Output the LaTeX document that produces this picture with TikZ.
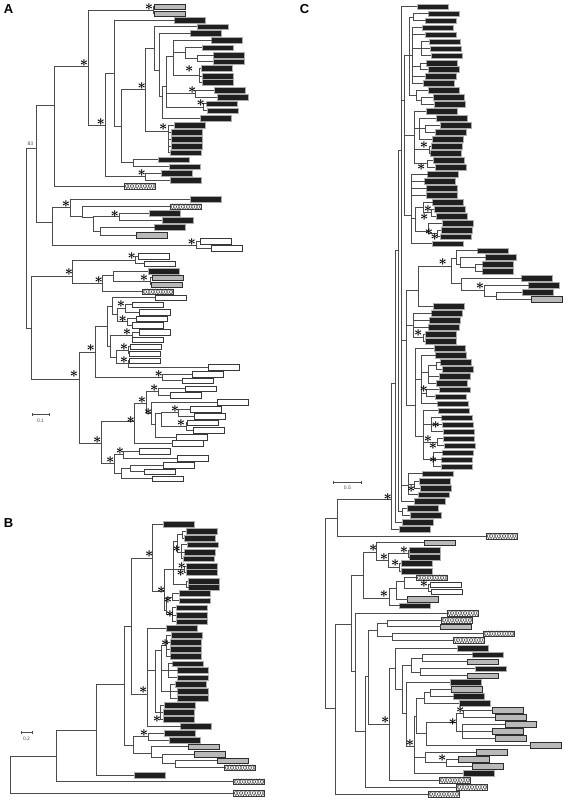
\documentclass[tikz,border=0pt]{standalone}
\usepackage{amsmath}
\usepackage{fontspec}
\setsansfont{Liberation Sans}
\usepackage{tikz}
\usetikzlibrary{arrows.meta}

\tikzset{
  br/.style={draw=black!70, line width=0.9pt, line cap=rect},
  leaf/.style={anchor=west, minimum width=31pt, minimum height=5.8pt, inner sep=0pt, line width=0.5pt},
  lk/.style={fill=black!88, draw=gray!65},
  lg/.style={fill=gray!55, draw=gray!35!black},
  lw/.style={fill=white, draw=gray!45!black},
  lx/.style={fill=white, draw=gray!45!black,
    path picture={
      \draw[gray!40!black, line width=0.35pt] (path picture bounding box.south west)
        \foreach \k in {1,...,6}{ -- ++(2.58pt,5.8pt) -- ++(2.58pt,-5.8pt)};
      \draw[gray!40!black, line width=0.35pt] (path picture bounding box.north west)
        \foreach \k in {1,...,6}{ -- ++(2.58pt,-5.8pt) -- ++(2.58pt,5.8pt)};
    }},
  ast/.style={inner sep=0pt, font=\fontsize{14}{14}\selectfont},
  pan/.style={inner sep=0pt, font=\sffamily\bfseries\fontsize{13}{13}\selectfont},
  tiny/.style={inner sep=0pt, text=black!70, font=\sffamily\fontsize{5}{5}\selectfont},
  sbar/.style={draw=black!70, line width=0.5pt, {Bar[width=3pt]}-{Bar[width=3pt]}},
}

\begin{document}
\begin{tikzpicture}[x=1pt, y=-1pt]
  \useasboundingbox (0,0) rectangle (565,800);

  % Pannello A
  \node[pan] (tA) at (8.5,9) {A};
  \coordinate (Ar) at (26.3,238);
  \draw[br] (26.3,148.3) -- (26.3,328.3);
  \node[tiny] (bs83) at (30.5,144) {83};
  \foreach \n/\p/\x/\y/\ya/\yb in {
    a1/r/36/148.3/105/222.7, aa/a1/54.3/105/66.7/186, ab/aa/88.7/66.7/10/125,
    ac/ab/153/10/6.7/13.7, ad/ab/105/125/73.3/176.7, ae/ad/114.7/73.3/20/126.7,
    af/ae/121.3/126.7/89.3/162.7, ag/af/145.3/89.3/48.3/131.7, ah/ag/154/48.3/26.7/70,
    ai/ah/159/70/33.3/96, aj/ai/162.7/96/86/117.7, ak/aj/166.7/86/56/107,
    am/ak/173.3/56/40.3/75, as/am/185/52/47.7/58.5, au/as/197.3/58.5/55.3/61.7,
    at/am/199/75/68.3/82.3, aq/ak/195/93.5/90/97, ap/ak/203/107.2/103.7/110.7,
    al/ag/168/131.7/125/152.7, an/af/133/162.7/159.7/166.7, ao/ad/145.3/176.7/173.3/180.3,
    av/a1/52.3/222.7/207.3/245, aw/av/70/207.3/199.3/216, ax/aw/82/216/206.7/217,
    ay/ax/93.3/217/216.8/231, az/ay/119/216.8/213.3/220.3, aw2/ay/100/231/227.3/235,
    ba/av/196.7/245/241.3/248.3,
    bb/r/31.3/328.3/276.7/379.3, bc/bb/72.3/276.7/260/283.3, bd/bc/135/260/256.3/263.7,
    be/bc/102/283.3/275.7/291.7, bf/be/113.3/275.7/271/281.2, bg/bf/150/281.2/277.7/284.7,
    bh/bb/79/379.3/352/443.7, bi/bh/95.7/352/326/377.7, bj/bi/107.3/326/306/346.7,
    bk/bj/112.3/306/297.7/314, bl/bk/117.3/314/308.3/321.8, bm/bl/125/308.3/304.7/312,
    bn/bl/127/321.8/318.7/325, bo/bj/110/346.7/335.8/357, bp/bo/132/335.8/332/339.7,
    bq/bo/116.7/357/350.2/363.8, br/bq/128/350.2/346.7/353.7, bs/bq/128/363.8/360.7/367,
    bt/bi/162.7/377.7/374/380.7, bu/bh/101.3/443.7/421.7/463.3, bv/bu/134.7/421.7/403.3/443.3,
    bw/bv/146/403.3/391.7/413.3, bx/bw/158.3/391.7/388.7/395.3, by/bw/151.7/413.3/402/424,
    bz/by/155.3/424/413/437, ca/bz/161.3/413/412.7/426.5, cb/ca/178.7/412.7/409.3/416,
    cc/ca/186/426.5/422.7/430.3, cd/bu/114.3/463.3/454/473.3, ce/cd/123.7/454/451.3/458,
    cf/cd/121.7/473.3/468.7/478.7, cg/cf/130.7/468.7/465.3/471.7}{
    \coordinate (A\n) at (\x,\y);
    \draw[br] (A\p |- A\n) -- (A\n);
    \draw[br] (\x,\ya) -- (\x,\yb);
  }
  \foreach \n/\p/\y/\bx/\s in {
    1/ac/6.7/154/lg, 2/ac/13.7/154/lg, 3/ae/20/174.3/lk, 4/ah/26.7/196.7/lk,
    5/ai/33.3/190.3/lk, 6/am/40.3/211.3/lk, 7/as/47.7/202/lk, 8/au/55.3/213.3/lk,
    9/au/61.7/212.7/lk, 10/at/68.3/200.7/lk, 11/at/76/202/lk, 12/at/82.3/202/lk,
    13/aq/90/213.7/lk, 14/aq/97/217/lk, 15/ap/103.7/206.3/lk, 16/ap/110.7/207/lk,
    17/aj/118/199.7/lk, 18/al/125/173.7/lk, 19/al/132/170.7/lk, 20/al/139/170.7/lk,
    21/al/146/171/lk, 22/al/152.7/170/lk, 23/an/159.7/157.7/lk, 24/an/166.7/169/lk,
    25/ao/173.3/160.7/lk, 26/ao/180.3/170/lk, 27/aa/186/124/lx, 28/aw/199.3/190/lk,
    29/ax/206.7/169.7/lx, 30/az/213.3/149/lk, 31/az/220.3/161.7/lk, 32/aw2/227.3/154.3/lk,
    33/aw2/235/136/lg, 34/ba/241.3/200/lw, 35/ba/248.3/211/lw, 36/bd/256.3/138.3/lw,
    37/bd/263.7/144/lw, 38/bf/271/147.7/lk, 39/bg/277.7/151.7/lg, 40/bg/284.7/151/lg,
    41/be/291.7/142.3/lx, 42/bk/297.7/155.3/lw, 43/bm/304.7/132.3/lw, 44/bm/312/138.7/lw,
    45/bn/318.7/135.7/lw, 46/bn/325/132.3/lw, 47/bp/332/138.7/lw, 48/bp/339.7/132.3/lw,
    49/br/346.7/129.7/lw, 50/br/353.7/129.3/lw, 51/bs/360.7/129.3/lw, 52/bs/367/207.7/lw,
    53/bt/374/192/lw, 54/bt/380.7/182.3/lw, 55/bx/388.7/185/lw, 56/bx/395.3/169.7/lw,
    57/by/402/217/lw, 58/cb/409.3/190.3/lw, 59/cb/416/194/lw, 60/cc/422.7/187.3/lw,
    61/cc/430.3/193/lw, 62/bz/437/176.3/lw, 63/bv/443.3/172.3/lw, 64/ce/451.3/139/lw,
    65/ce/458/176.7/lw, 66/cg/465.3/163.3/lw, 67/cg/471.7/144/lw, 68/cf/478.7/152/lw}{
    \node[leaf,\s] (a\n) at (\bx,\y) {};
    \draw[br] (A\p |- a\n.west) -- (a\n.west);
  }
  \coordinate (sA1) at (32,414.3);
  \coordinate (sA2) at (49,414.3);
  \draw[sbar] (sA1) -- (sA2);
  \node[tiny] (lsA) at (40.5,420.5) {0.1};

  % Pannello B
  \node[pan] (tB) at (8.5,523.5) {B};
  \coordinate (Br) at (10.3,775);
  \draw[br] (10.3,756.7) -- (10.3,793);
  \foreach \n/\p/\x/\y/\ya/\yb in {
    ba1/r/56/756.7/730/781.7, bb1/ba1/96.3/730/684.3/775, bc1/bb1/124/684.3/626.7/745,
    bd1/bc1/131.7/626.7/558.3/694.3, be1/bd1/152.7/558.3/524/591.7, bf1/be1/164/591.7/569/610,
    bg1/bf1/173.3/569/541/584, bg2/bg1/177/541/534.5/552, bg5/bg2/182.7/534.5/531/538,
    bg6/bg2/181.7/552/544.7/558.7, bg3/bg1/184/569/566.3/572, bg4/bg1/186/584/581.3/587.3,
    bh1/bf1/166.7/610/597/614.7, bh2/bh1/172/597/593.3/600.7, bh3/bh1/172/614.7/607.7/621.7,
    bi1/bd1/147.3/694.3/628.3/726.3, bj1/bi1/155/670/650/712, bk1/bj1/161.7/650/645.8/691.1,
    bk2/bk1/166/645.8/635.3/656.3, bk3/bk1/168/670.7/663.7/677.7, bk4/bk1/170/691.1/684.3/698,
    bl1/bj1/160.7/712/705.3/719, bm1/bc1/133/745/736.7/753.7, bn1/bm1/148/736.7/733/740,
    bo1/bm1/151.3/753.7/746.7/757, bp1/bo1/162.3/757/754/763.5, bq1/bp1/175/763.5/760.7/767.7}{
    \coordinate (B\n) at (\x,\y);
    \draw[br] (B\p |- B\n) -- (B\n);
    \draw[br] (\x,\ya) -- (\x,\yb);
  }
  \foreach \n/\p/\y/\bx/\s in {
    1/be1/524/163/lk, 2/bg5/531/186/lk, 3/bg5/538/184/lk, 4/bg6/544.7/186.7/lk,
    5/bg6/552/184.3/lk, 6/bg6/558.7/183/lk, 7/bg3/566.3/186/lk, 8/bg3/572/186/lk,
    9/bg4/581.3/187.7/lk, 10/bg4/587.3/188.3/lk, 11/bh2/593.3/178.7/lk, 12/bh2/600.7/178.7/lk,
    13/bh3/607.7/175.7/lk, 14/bh3/615/175.7/lk, 15/bh3/621.7/175.7/lk, 16/bi1/628.3/165.7/lk,
    17/bk2/635.3/170.7/lk, 18/bk2/642.3/169.7/lk, 19/bk2/649/169.7/lk, 20/bk2/656.3/170.3/lk,
    21/bk3/663.7/172.3/lk, 22/bk3/670.3/177.3/lk, 23/bk3/677.7/176.7/lk, 24/bk4/684.3/175/lk,
    25/bk4/691.3/177.3/lk, 26/bk4/698/176.7/lk, 27/bl1/705.3/163.7/lk, 28/bl1/712/163/lk,
    29/bl1/719/163/lk, 30/bi1/726.3/180.3/lk, 31/bn1/733/163.7/lk, 32/bn1/740/169/lk,
    33/bo1/746.7/187.7/lg, 34/bp1/754/193.7/lg, 35/bq1/760.7/217/lg, 36/bq1/767.7/224/lx,
    37/bb1/775/134/lk, 38/ba1/781.7/233.3/lx, 39/r/793/233/lx}{
    \node[leaf,\s] (b\n) at (\bx,\y) {};
    \draw[br] (B\p |- b\n.west) -- (b\n.west);
  }
  \coordinate (sB1) at (20.7,732);
  \coordinate (sB2) at (32.3,732);
  \draw[sbar] (sB1) -- (sB2);
  \node[tiny] (lsB) at (26.5,738.5) {0.2};

  % Pannello C
  \node[pan] (tC) at (304.5,9.5) {C};
  \coordinate (Cr) at (325.7,613);
  \draw[br] (325.7,518) -- (325.7,708.3);
  \foreach \n/\p/\x/\y/\ya/\yb in {
    c1/r/337/518/500/536, u0/c1/391/499.3/383/529, u1/u0/395/383/250/522.3,
    u2/u1/398/250/150/511.8, u2b/u2/402/511.8/508.3/515.3, u3/u2/401.7/150/6.7/501.3,
    u4/u3/404.5/100/55/215, ca/u4/409.3/55/17.2/95, ca1/ca/413.3/17.2/13.7/20.7,
    ca2/ca/412.7/55/27.7/83.3, ca2a/ca2/421/48.7/41.7/55.7, ca2b/ca2/420/66.2/63/69.3,
    ca3/ca/416/95/90.3/100.8, ca3b/ca3/421/100.8/97.3/104.3,
    g2a/u4/414.3/135/111/163.7, g2a1/g2a/419.3/128.8/118.3/139.3, g2a1b/g2a1/425/128.8/125.3/132.3,
    g2a2/g2a/429.5/149.7/146/153.3, g2a3/g2a/427/163.7/160.3/167,
    g2b/u4/411.7/215/174.3/243.7, g2b1/g2b/415.3/218.5/207/231, g2b1a/g2b1/423/207/202/212.5,
    g2b1c/g2b1a/431/212.5/209/216, g2b1b/g2b1/428/231/223/233.3, g2b1d/g2b1b/437/233.3/230/236.7,
    u5/u3/406.5/340/290/405, g34/u5/418/290/266.7/306.3, g3/g34/451.7/266.7/258/283,
    g3a/g3/456/258/250.7/264, g3a2/g3a/460/264/257.3/267.7, g3a3/g3a2/475/267.7/264.3/271,
    g3b/g3/461.7/283/278/290.7, g3b2/g3b/484.3/290.7/285.3/296, g3b3/g3b2/496.7/296/292.3/299.3,
    g4/u5/413.3/325/313/337.5, g4a/g4/423/337.5/334/341,
    g5/u5/415.7/405/348/436, g5a/g5/421/379/355/403.7, g5a1/g5a/428/372/365.5/383,
    g5a1a/g5a1/436/365.5/362/369, g5a2/g5a/426/393.2/389.7/396.7,
    g5b/g5/423/436/410.7/459.7, g5b1/g5b/431/424.7/417.7/431.7, g5b2/g5b/437/442.2/438.7/445.7,
    g5b3/g5b/433/459.7/452.7/466.7, g6/u3/408.3/485/473.7/494.7, g6b/g6/414/484.5/481/488,
    cl/r/335.3/708.3/624/794, cl1/cl/351.3/624/575.7/671.7, cm/cl1/363/575.7/552/598.3,
    cm1/cm/376.3/552/542.7/560.7, cm2/cm1/388.3/560.7/553.7/567.3, cm3/cm2/408.3/553.7/550.3/557.3,
    cm4/cm2/399.7/567.3/563.3/571, cn/cm/389.3/598.3/588.3/605.7, cn1/cn/396.7/588.3/581/599,
    cn2/cn1/404.7/581/577.7/588, cn3/cn2/428/588/584.7/591.7,
    co/cl1/355.7/671.7/613/731.7, co1/co/365/731.7/676.7/786.7, co2/co1/368.3/676.7/630/724,
    co3/co2/377/630/623.3/636.3, co4/co3/387.3/623.3/620/626.7, co5/co3/392/636.3/633.7/640,
    co6/co2/389/724/668.7/780, co7/co6/395.3/668.7/648/689.3, co8/co7/402.3/689.3/665.2/713.4,
    co9/co8/411.7/665.2/658.2/672.2, co10/co9/422.7/658.2/654.7/661.7, co11/co9/420.3/672.2/668.7/675.7,
    cp/co8/406/713.4/682.3/746.7, cq/cp/414.3/746.7/716/773, cr/cq/416.7/716/698/733.9,
    cs/cr/424/698/692.8/703, cs1/cs/430/692.8/689.3/696.3, ct/cr/426/733.9/722.4/745.3,
    ct1/ct/456/722.4/713.8/731, ct2/ct1/463.3/713.8/710.3/717.3, ct3/ct1/462/731/724.3/738,
    cv/cq/425/757.4/752/762.8, cv1/cv/446/762.8/759.3/766.3}{
    \coordinate (C\n) at (\x,\y);
    \draw[br] (C\p |- C\n) -- (C\n);
    \draw[br] (\x,\ya) -- (\x,\yb);
  }
  \foreach \n/\p/\y/\bx/\s in {
    1/u3/6.7/417/lk, 2/ca1/13.7/428.3/lk, 3/ca1/20.7/425.3/lk, 4/ca2/27.7/422/lk,
    5/ca2/34.7/425/lk, 6/ca2a/41.7/429/lk, 7/ca2a/48.7/429.7/lk, 8/ca2a/55.7/430.7/lk,
    9/ca2b/63/426.3/lk, 10/ca2b/69.3/427.7/lk, 11/ca2/76.3/425/lk, 12/ca2/83.3/423/lk,
    13/ca3/90.3/427.7/lk, 14/ca3b/97.3/432.7/lk, 15/ca3b/104.3/433.7/lk, 16/g2a/111/425.7/lk,
    17/g2a1/118.3/435.7/lk, 18/g2a1b/125.3/439.7/lk, 19/g2a1b/132.3/435/lk, 20/g2a1/139.3/432/lk,
    21/g2a2/146/430.7/lk, 22/g2a2/153.3/430.3/lk, 23/g2a3/160.3/432.7/lk, 24/g2a3/167/434.7/lk,
    25/g2b/174.3/427.3/lk, 26/g2b/181.3/424.3/lk, 27/g2b/188/426.3/lk, 28/g2b/195/426/lk,
    29/g2b1a/202/432.3/lk, 30/g2b1c/209/433.7/lk, 31/g2b1c/216/436/lk, 32/g2b1b/223/441.7/lk,
    33/g2b1d/230/440.7/lk, 34/g2b1d/236.7/440/lk, 35/g2b/243.7/432/lk, 36/g3a/250.7/477.3/lk,
    37/g3a2/257.3/485.3/lk, 38/g3a3/264.3/482.3/lk, 39/g3a3/271/482.3/lk, 40/g3b/278/521.3/lk,
    41/g3b2/285.3/528.3/lk, 42/g3b3/292.3/522/lk, 43/g3b3/299.3/530.7/lg, 44/g34/306.3/433/lk,
    45/g4/313/431.3/lk, 46/g4/320/429.3/lk, 47/g4/327/428.3/lk, 48/g4a/334/424.7/lk,
    49/g4a/341/425/lk, 50/g5/348/434/lk, 51/g5a/355/435.3/lk, 52/g5a1a/362/440.3/lk,
    53/g5a1a/369/441.7/lk, 54/g5a1/376/438.7/lk, 55/g5a1/383/436/lk, 56/g5a2/389.7/438.7/lk,
    57/g5a2/396.7/434.7/lk, 58/g5a/403.7/437.3/lk, 59/g5b/410.7/438/lk, 60/g5b1/417.7/441.3/lk,
    61/g5b1/424.7/442/lk, 62/g5b1/431.7/442.7/lk, 63/g5b2/438.7/442.7/lk, 64/g5b2/445.7/444/lk,
    65/g5b3/452.7/442.3/lk, 66/g5b3/459.7/441.3/lk, 67/g5b3/466.7/441/lk, 68/g6/473.7/422.3/lk,
    69/g6b/481/418.7/lk, 70/g6b/488/420/lk, 71/g6/494.7/418/lk, 72/u3/501.3/414/lk,
    73/u2b/508.3/407/lk, 74/u2b/515.3/410/lk, 75/u1/522.3/401.7/lk, 76/u0/529/398.7/lk,
    77/c1/536/485.7/lx, 78/cm1/542.7/424/lg, 79/cm3/550.3/409.3/lk, 80/cm3/557.3/409.3/lk,
    81/cm4/563.3/400.7/lk, 82/cm4/571/401/lk, 83/cn2/577.7/416/lx, 84/cn3/584.7/430.3/lw,
    85/cn3/591.7/431.3/lw, 86/cn1/599/407.3/lg, 87/cn/605.7/399.3/lk, 88/co/613/446.7/lx,
    89/co4/620/441.3/lx, 90/co4/626.7/440.3/lg, 91/co5/633.7/483.3/lx, 92/co5/640/452.7/lx,
    93/co7/648/456.7/lk, 94/co10/654.7/472.3/lk, 95/co10/661.7/467.3/lg, 96/co11/668.7/474.7/lk,
    97/co11/675.7/467.3/lg, 98/cp/682.3/449.7/lk, 99/cs1/689.3/451.3/lg, 100/cs1/696.3/453.3/lk,
    101/cs/703/459/lk, 102/ct2/710.3/491.7/lg, 103/ct2/717.3/495/lg, 104/ct3/724.3/505/lg,
    105/ct3/731/491.7/lg, 106/ct3/738/495.3/lg, 107/ct/745.3/530.3/lg, 108/cv/752/476/lg,
    109/cv1/759.3/457.7/lg, 110/cv1/766.3/472/lg, 111/cq/773/463/lk, 112/co6/780/439.3/lx,
    113/co1/787/456.3/lx, 114/cl/794/428.3/lx}{
    \node[leaf,\s] (c\n) at (\bx,\y) {};
    \draw[br] (C\p |- c\n.west) -- (c\n.west);
  }
  \coordinate (sC1) at (332.7,482);
  \coordinate (sC2) at (361.7,482);
  \draw[sbar] (sC1) -- (sC2);
  \node[tiny] (lsC) at (347.3,487.5) {0.5};

  % Asterischi (supporto)
  \foreach \x/\y [count=\i] in {
    149/7, 84/63.3, 100.7/121.7, 141.7/86, 189.3/69, 192.3/90, 200.7/103.3, 163.3/127.3,
    141.7/173.3, 66/204, 114.7/213.7, 191.7/242.3, 131.7/256, 69/272.3, 98.7/280, 144/277.7,
    121/304.3, 122.7/318.7, 127/332.3, 124/346.7, 124/360, 90.7/348.3, 74/374.3, 158.7/374.3,
    154.3/387.7, 142/400, 148.3/411.7, 175/409.3, 181/423.3, 130.7/420, 97.3/440, 120/451,
    110.3/460,
    149.3/554.3, 176.7/549.3, 181.7/565.7, 180.7/572.7, 161.3/590, 168/600, 170/614.3,
    165.3/642.7, 143.3/690, 157/719, 144/732.7,
    424/145.3, 421.3/166.7, 428/208.7, 424.3/216.7, 429/231.7, 434.7/236.7, 442.7/262.3,
    480/286, 418.3/333.3, 423.7/389, 435.7/424.7, 428/439, 433/446, 433.3/459.7, 411.3/489,
    387.7/496.7, 373.3/548.3, 384/556.7, 404/550.3, 395.3/563.3, 384/594, 424/584.3,
    385.3/720, 460.3/710, 452.7/721.7, 410/742.7, 442.3/758}{
    \node[ast] (s\i) at (\x,\y) {$\boldsymbol{\ast}$};
  }
\end{tikzpicture}
\end{document}
